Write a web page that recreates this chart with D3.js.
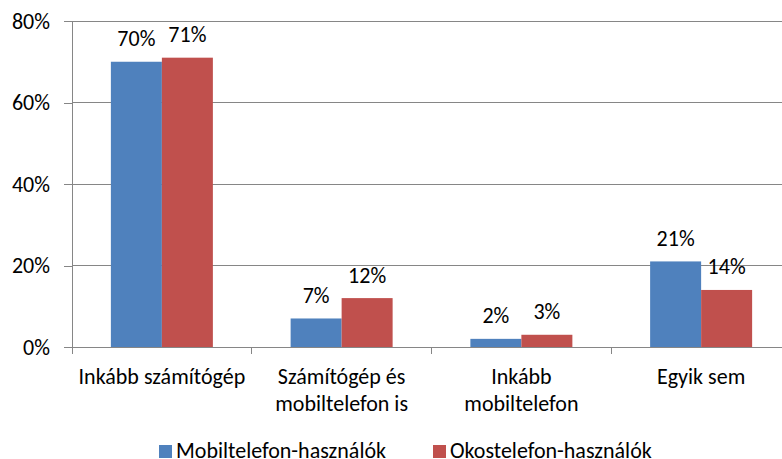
<!DOCTYPE html>
<html>
<head>
<meta charset="utf-8">
<script src="https://cdn.jsdelivr.net/npm/d3@7"></script>
<style>
  body { margin: 0; background: #fff; }
  svg text { font-family: Carlito, Lato, sans-serif; fill: #000; }
</style>
</head>
<body>
<svg id="mainsvg" width="782" height="459"></svg>
<script>
const categories = [['Inkább számítógép'], ['Számítógép és', 'mobiltelefon is'], ['Inkább', 'mobiltelefon'], ['Egyik sem']];
const seriesNames = ['Mobiltelefon-használók', 'Okostelefon-használók'];
const mobilValues = [0.70, 0.07, 0.02, 0.21];
const okosValues = [0.71, 0.12, 0.03, 0.14];
const yTicks = [0, 0.2, 0.4, 0.6, 0.8];
const colors = ['#4F81BD', '#C0504D'];

const svg = d3.select('#mainsvg');
const plotLeft = 72, plotRight = 791, plotTop = 21, plotBottom = 347;
const fontSize = 22;

const catKeys = categories.map(c => c.join(' '));
const xScale = d3.scaleBand().domain(catKeys).range([plotLeft, plotRight]).padding(0);
const step = xScale.bandwidth();
const barW = 51;
const gap = (step - 2 * barW) / 2;
const xInner = d3.scaleBand().domain(seriesNames).range([gap, step - gap]).padding(0);
const yScale = d3.scaleLinear().domain([0, 0.8]).range([plotBottom, plotTop]);

// gridlines
svg.append('g').selectAll('line')
  .data(yTicks.filter(d => d > 0))
  .join('line')
  .attr('x1', plotLeft).attr('x2', 782)
  .attr('y1', d => yScale(d)).attr('y2', d => yScale(d))
  .attr('stroke', '#868686').attr('stroke-width', 1)
  .attr('shape-rendering', 'crispEdges');

// y axis
const yAxis = svg.append('g')
  .attr('transform', `translate(${plotLeft},0)`)
  .call(d3.axisLeft(yScale).tickValues(yTicks).tickFormat(d3.format('.0%')).tickSize(8).tickPadding(14));
yAxis.select('.domain').attr('stroke', '#868686');
yAxis.selectAll('.tick line').attr('stroke', '#868686');
yAxis.selectAll('text').style('font-size', fontSize + 'px').attr('fill', '#000');
yAxis.attr('shape-rendering', 'crispEdges');

// bars
const series = [mobilValues, okosValues];
series.forEach((vals, si) => {
  svg.append('g').selectAll('rect')
    .data(vals)
    .join('rect')
    .attr('x', (d, i) => xScale(catKeys[i]) + xInner(seriesNames[si]))
    .attr('y', d => yScale(d))
    .attr('width', xInner.bandwidth())
    .attr('height', d => plotBottom - yScale(d))
    .attr('fill', colors[si]);

  svg.append('g').selectAll('text')
    .data(vals)
    .join('text')
    .attr('x', (d, i) => xScale(catKeys[i]) + xInner(seriesNames[si]) + xInner.bandwidth() / 2)
    .attr('y', d => yScale(d) - 15.5)
    .attr('text-anchor', 'middle')
    .style('font-size', fontSize + 'px')
    .text(d => Math.round(d * 100) + '%');
});

// x axis
const xAxisG = svg.append('g');
xAxisG.append('line')
  .attr('x1', plotLeft).attr('x2', 782)
  .attr('y1', plotBottom).attr('y2', plotBottom)
  .attr('stroke', '#868686').attr('shape-rendering', 'crispEdges');
xAxisG.selectAll('.xtick')
  .data(catKeys)
  .join('line')
  .attr('class', 'xtick')
  .attr('x1', d => xScale(d)).attr('x2', d => xScale(d))
  .attr('y1', plotBottom).attr('y2', plotBottom + 7)
  .attr('stroke', '#868686').attr('shape-rendering', 'crispEdges');

const labels = xAxisG.selectAll('.xlabel')
  .data(categories)
  .join('text')
  .attr('class', 'xlabel')
  .attr('text-anchor', 'middle')
  .style('font-size', fontSize + 'px');
labels.selectAll('tspan')
  .data((d, i) => d.map(line => ({line, i})))
  .join('tspan')
  .attr('x', d => xScale(catKeys[d.i]) + step / 2)
  .attr('y', (d, j) => 384 + j * 26.5)
  .text(d => d.line);

// legend
const legendX = [159, 433];
const legend = svg.append('g').selectAll('g')
  .data(seriesNames)
  .join('g')
  .attr('transform', (d, i) => `translate(${legendX[i]}, 445)`);
legend.append('rect')
  .attr('width', 13).attr('height', 13)
  .attr('fill', (d, i) => colors[i]);
legend.append('text')
  .attr('x', 17).attr('y', 13)
  .style('font-size', fontSize + 'px')
  .text(d => d);
</script>
</body>
</html>
